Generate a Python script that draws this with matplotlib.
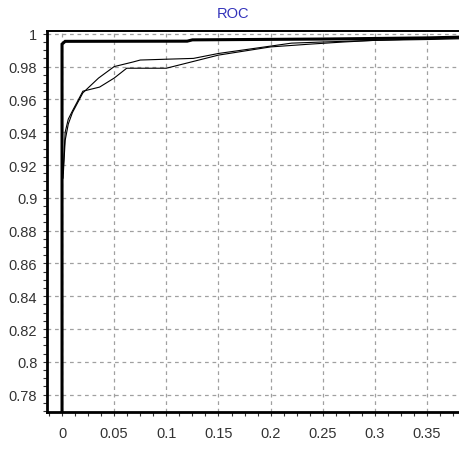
import numpy as np
import matplotlib
matplotlib.use("Agg")
import matplotlib.pyplot as plt
from matplotlib.ticker import MultipleLocator

# ROC curves
thin1_fpr = [0.001, 0.003, 0.006, 0.01, 0.02, 0.035, 0.05, 0.068, 0.075, 0.1, 0.126, 0.15, 0.2, 0.22, 0.25, 0.3, 0.35, 0.385]
thin1_tpr = [0.912, 0.935, 0.945, 0.952, 0.964, 0.973, 0.980, 0.9828, 0.984, 0.9845, 0.985, 0.988, 0.9925, 0.9943, 0.995, 0.996, 0.997, 0.9975]

thin2_fpr = [0.001, 0.003, 0.006, 0.01, 0.02, 0.036, 0.05, 0.062, 0.1, 0.15, 0.2, 0.238, 0.27, 0.3, 0.35, 0.385]
thin2_tpr = [0.915, 0.94, 0.948, 0.953, 0.965, 0.9675, 0.973, 0.979, 0.979, 0.987, 0.992, 0.9937, 0.995, 0.996, 0.9965, 0.997]

thick_fpr = [0.0, 0.0, 0.003, 0.12, 0.125, 0.25, 0.35, 0.385]
thick_tpr = [0.76, 0.9937, 0.9954, 0.9955, 0.9963, 0.9968, 0.9975, 0.998]

plt.rcParams["font.family"] = ["Liberation Sans", "DejaVu Sans"]

fig = plt.figure(figsize=(4.6, 4.56), dpi=100)
ax = fig.add_axes([0.1022, 0.0950, 0.9078, 0.8359])

ax.plot(thin1_fpr, thin1_tpr, color="black", lw=0.8)
ax.plot(thin2_fpr, thin2_tpr, color="black", lw=0.8)
ax.plot(thick_fpr, thick_tpr, color="black", lw=2.2, solid_joinstyle="miter")

ax.set_xlim(-0.0144, 0.386)
ax.set_ylim(0.7696, 1.002)

ax.xaxis.set_major_locator(MultipleLocator(0.05))
ax.xaxis.set_minor_locator(MultipleLocator(0.0125))
ax.yaxis.set_major_locator(MultipleLocator(0.02))
ax.yaxis.set_minor_locator(MultipleLocator(0.005))
ax.xaxis.set_major_formatter(lambda v, p: f"{v:g}")
ax.yaxis.set_major_formatter(lambda v, p: f"{v:g}")

ax.grid(True, which="major", color="#a0a0a0", lw=0.9, linestyle=(0, (3, 3)))
ax.tick_params(which="both", direction="out", length=3, width=0.8, color="#333333",
               labelsize=10.5, labelcolor="#333333")
ax.tick_params(axis="x", pad=7)
ax.tick_params(axis="y", pad=4)

for side in ["left", "bottom"]:
    ax.spines[side].set_linewidth(2)
ax.spines["top"].set_linewidth(1.4)
ax.spines["right"].set_visible(False)

fig.text(0.507, 0.969, "ROC", ha="center", va="center", fontsize=10.5, color="#3333bb")

fig.savefig("out.png", dpi=100)
